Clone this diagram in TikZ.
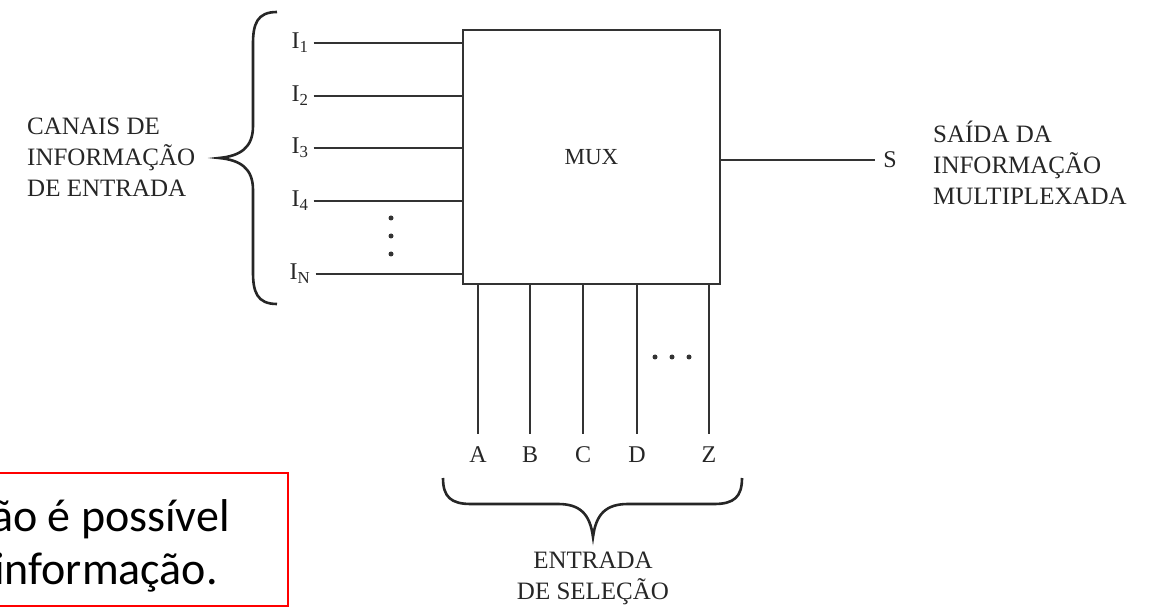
\documentclass[tikz,border=0pt]{standalone}
\usepackage{fontspec}
\setmainfont{Liberation Serif}
\newfontfamily\boxfont{Carlito}
\begin{document}
\begin{tikzpicture}[x=1pt,y=-1pt,
  ink/.style={draw=black!80,line width=2pt},
  lab/.style={text=black!85,font=\fontsize{24}{32}\selectfont},
  captext/.style={text=black!85,font=\fontsize{25}{31}\selectfont,inner sep=0pt},
  inlab/.style={lab,inner sep=5pt},
  sellab/.style={lab,inner sep=0pt,anchor=base},
  bracestroke/.style={draw=black!85,line width=2.6pt},
  dotnode/.style={circle,fill=black!80,inner sep=0pt,minimum size=5pt},
  notetext/.style={font=\boxfont\fontsize{46}{55}\selectfont,anchor=base east,inner sep=0pt}]
\useasboundingbox (0,0) rectangle (1151,609);
\clip (0,0) rectangle (1151,609);
% MUX box
\node[draw=black!80,line width=2.4pt,minimum width=257pt,minimum height=254pt,inner sep=0pt,
      font=\fontsize{23}{26}\selectfont,text=black!85] (mux) at (591.5,157) {MUX};
% inputs
\node[inlab] (i1) at (300,43) {I\textsubscript{1}};
\node[inlab] (i2) at (300,96) {I\textsubscript{2}};
\node[inlab] (i3) at (300,148) {I\textsubscript{3}};
\node[inlab] (i4) at (300,201) {I\textsubscript{4}};
\node[inlab] (iN) at (300,274) {I\textsubscript{N}};
\foreach \n in {i1,i2,i3,i4,iN}{\draw[ink] (\n.east) -- (\n -| mux.west);}
\node[dotnode] (v1) at (391,218) {};
\node[dotnode] (v2) at (391,236) {};
\node[dotnode] (v3) at (391,254) {};
% left brace
\draw[bracestroke] (277,12) .. controls (257,12) and (253,24) .. (253,44) -- (253,126)
  .. controls (253,148) and (240,156) .. (219,158)
  .. controls (240,160) and (253,168) .. (253,190) -- (253,272)
  .. controls (253,292) and (257,304) .. (277,304);
\node[captext,align=left,anchor=west] (canais) at (27,157) {CANAIS DE\\INFORMAÇÃO\\DE ENTRADA};
% output
\node[lab,inner sep=8pt] (s) at (890,160) {S};
\draw[ink] (mux.east |- s) -- (s.west);
\node[captext,align=left,anchor=west] (saida) at (933,163) {SAÍDA DA\\INFORMAÇÃO\\MULTIPLEXADA};
% selection inputs
\node[sellab] (a) at (478,462) {A};
\node[sellab] (b) at (530,462) {B};
\node[sellab] (c) at (583,462) {C};
\node[sellab] (d) at (637,462) {D};
\node[sellab] (z) at (709,462) {Z};
\foreach \n in {a,b,c,d,z}{\draw[ink] (mux.south -| \n) -- ([yshift=12pt]\n.north);}
\node[dotnode] (h1) at (655,357) {};
\node[dotnode] (h2) at (672,357) {};
\node[dotnode] (h3) at (689,357) {};
% bottom brace
\draw[bracestroke] (443,478) .. controls (443,497) and (451,504) .. (471,504) -- (558,504)
  .. controls (580,504) and (590,514) .. (593,537)
  .. controls (596,514) and (606,504) .. (628,504) -- (714,504)
  .. controls (734,504) and (742,497) .. (742,478);
\node[captext,align=center] (entrada) at (593,578) {ENTRADA\\DE SELEÇÃO};
% red note box
\node[draw=red,line width=2.2pt,minimum width=320pt,minimum height=133pt,inner sep=0pt,anchor=north east] (note) at (289,472) {};
\node[notetext] (t1) at (230,531) {ão é possível};
\node[notetext] (t2) at (218,584) {informação.};
\end{tikzpicture}
\end{document}
